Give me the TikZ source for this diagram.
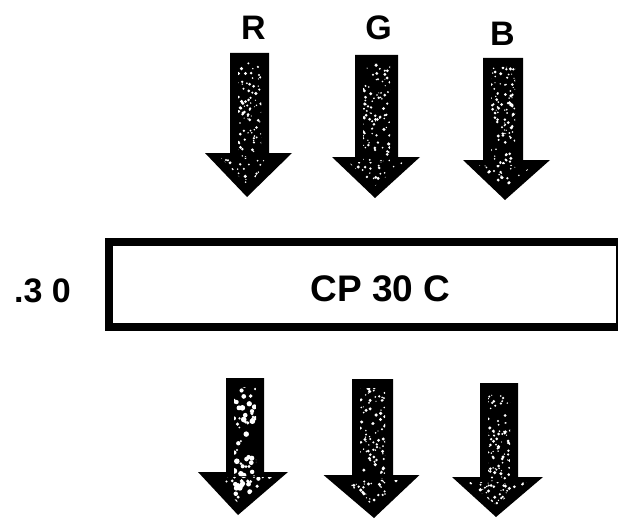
\documentclass[tikz,border=0pt]{standalone}
\usepackage{fontspec}
\setmainfont{Liberation Sans}
\begin{document}
\begin{tikzpicture}[x=1pt,y=-1pt,
  lbl/.style={font=\bfseries\fontsize{34}{38}\selectfont, inner sep=0pt},
  boxlbl/.style={font=\bfseries\fontsize{37}{40}\selectfont, inner sep=0pt},
  sidelbl/.style={font=\bfseries\fontsize{34}{38}\selectfont, inner sep=0pt},
  filterbox/.style={draw=black, line width=8pt, fill=white, inner sep=0pt, minimum width=511pt, minimum height=85pt}]
\useasboundingbox (0,0) rectangle (618,519);
% #1 shaft cx, #2 shaft half width, #3 top y, #4 head base y, #5 head cx, #6 head half width, #7 tip y, #8 tip x, #9 seed
\newcommand\speckarrow[9]{%
  \fill[black] ({#1-#2},#3) -- ({#1+#2},#3) -- ({#1+#2},#4) -- ({#5+#6},#4) -- (#8,#7) -- ({#5-#6},#4) -- ({#1-#2},#4) -- cycle;
  \begin{scope}
    \clip ({#1-#2+8},{#3+9}) rectangle ({#1+#2-8},{#4+4})
          ({#5-#6+16},{#4+5}) -- ({#5+#6-16},{#4+5}) -- (#8,{#7-12}) -- cycle;
    \pgfmathsetseed{#9}
    \foreach \i in {1,...,\speckn}{
      \fill[white] ({#5-#6+rnd*2*#6},{#3+rnd*(#7-#3)}) circle ({\speckr*(0.5+rnd)});
    }
  \end{scope}}
% top arrows
\def\speckn{420}\def\speckr{1.15}
\speckarrow{249.5}{19.5}{53}{153}{248.5}{43.5}{197}{247}{11}
\speckarrow{376.5}{21.5}{55}{157}{376}{44}{198}{375}{23}
\speckarrow{503}{20}{58}{160}{506.5}{43.5}{200}{505}{37}
% bottom arrows
\def\speckn{330}\def\speckr{1.9}
\speckarrow{245}{19}{378}{472}{243}{45}{515}{238}{41}
\def\speckn{420}\def\speckr{1.15}
\speckarrow{372.5}{20.5}{379}{475}{371.5}{48}{518}{374}{53}
\speckarrow{499}{19}{383}{477}{497.5}{45.5}{517}{496}{67}
% labels
\node[lbl] (r) at (253.5,27.5) {R};
\node[lbl] (g) at (378.5,27.5) {G};
\node[lbl] (b) at (502.5,34) {B};
% filter box
\node[filterbox] (box) at (364.5,284.5) {};
\node[boxlbl] (cp) at (380.5,288.5) {CP 30 C};
\node[sidelbl] (dens) at (42.5,290.5) {.3 0};
\end{tikzpicture}
\end{document}
